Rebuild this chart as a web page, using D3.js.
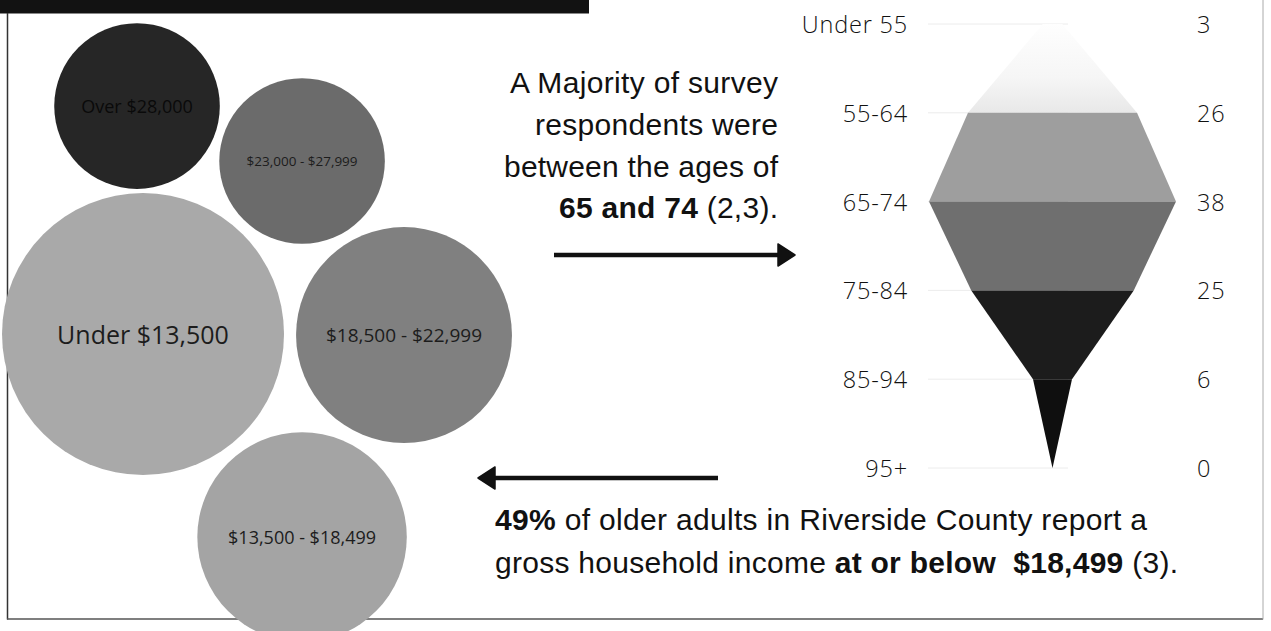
<!DOCTYPE html>
<html>
<head>
<meta charset="utf-8">
<script src="https://cdn.jsdelivr.net/npm/d3@7"></script>
<style>
  html, body { margin: 0; padding: 0; background: #fff; }
  svg { display: block; }
  .note { font-family: "Liberation Sans", Arial, Helvetica, sans-serif; }
</style>
</head>
<body>
<svg id="chart" width="1271" height="631"></svg>
<script>
// ---------- DATA ----------
const incomeCategories = ["Over $28,000", "$23,000 - $27,999", "Under $13,500", "$18,500 - $22,999", "$13,500 - $18,499"];
const incomeValues = [10, 10, 29, 17, 16];

const ageGroups = ["Under 55", "55-64", "65-74", "75-84", "85-94", "95+"];
const ageCounts = [3, 26, 38, 25, 6, 0];

const topNoteLines = [
  [{t: "A Majority of survey"}],
  [{t: "respondents were"}],
  [{t: "between the ages of"}],
  [{t: "65 and 74", b: true}, {t: " (2,3)."}]
];
const bottomNoteLines = [
  [{t: "49%", b: true}, {t: " of older adults in Riverside County report a"}],
  [{t: "gross household income "}, {t: "at or below\u00a0 $18,499", b: true}, {t: " (3)."}]
];

// ---------- STYLE / LAYOUT ----------
const W = 1271, H = 631;
const svg = d3.select("#chart");

const bubbleFill = ["#262626", "#6b6b6b", "#a9a9a9", "#808080", "#a4a4a4"];
const bubbleFont = [18, 13.5, 25, 19, 18];
// bubble layout in panel-relative units (0..1)
const bubbleLayout = [[0.2496, 0.1711], [0.5502, 0.2598], [0.2605, 0.5388], [0.7359, 0.5404], [0.5502, 0.8662]];
const panelX = d3.scaleLinear().domain([0, 1]).range([0, 549]);
const panelY = d3.scaleLinear().domain([0, 1]).range([0, 620]);
const rScale = d3.scaleSqrt().domain([0, 29]).range([0, 141]);

// frame
svg.append("rect").attr("x", 0).attr("y", 0).attr("width", 589).attr("height", 13.5).attr("fill", "#121212");
svg.append("line").attr("x1", 7.5).attr("x2", 7.5).attr("y1", 13).attr("y2", 619.5).attr("stroke", "#333").attr("stroke-width", 1.5);
svg.append("line").attr("x1", 7).attr("x2", 1263).attr("y1", 619).attr("y2", 619).attr("stroke", "#555").attr("stroke-width", 1.5);
svg.append("line").attr("x1", 1263).attr("x2", 1263).attr("y1", 0).attr("y2", 619.5).attr("stroke", "#aaa").attr("stroke-width", 1);

// ---------- BUBBLES ----------
const bubbles = incomeCategories.map((c, i) => ({c, v: incomeValues[i], i}));
const bg = svg.append("g").attr("class", "bubbles");
bg.selectAll("circle").data(bubbles).join("circle")
  .attr("cx", d => panelX(bubbleLayout[d.i][0]))
  .attr("cy", d => panelY(bubbleLayout[d.i][1]))
  .attr("r", d => rScale(d.v))
  .attr("fill", d => bubbleFill[d.i]);
bg.selectAll("text").data(bubbles).join("text")
  .attr("x", d => panelX(bubbleLayout[d.i][0]))
  .attr("y", d => panelY(bubbleLayout[d.i][1]))
  .attr("text-anchor", "middle")
  .attr("dominant-baseline", "central")
  .attr("font-family", "'Open Sans', sans-serif")
  .attr("font-size", d => bubbleFont[d.i])
  .attr("fill", d => d.i === 0 ? "#0a0a0a" : "#1c1c1c")
  .text(d => d.c);

// ---------- FUNNEL ----------
const fy = d3.scalePoint().domain(ageGroups).range([24, 468]);
const fw = d3.scaleLinear().domain([0, 38]).range([0, 247]);
const fcx = 1052.5;
const bandFill = ["url(#topGrad)", "#9e9e9e", "#6f6f6f", "#1c1c1c", "#0f0f0f"];

const defs = svg.append("defs");
const grad = defs.append("linearGradient").attr("id", "topGrad").attr("x1", 0).attr("x2", 0).attr("y1", 0).attr("y2", 1);
grad.append("stop").attr("offset", "0%").attr("stop-color", "#fefefe");
grad.append("stop").attr("offset", "60%").attr("stop-color", "#f6f6f6");
grad.append("stop").attr("offset", "100%").attr("stop-color", "#e8e8e8");

const fg = svg.append("g").attr("class", "funnel");
fg.selectAll("line.grid").data(ageGroups).join("line").attr("class", "grid")
  .attr("x1", 928).attr("x2", 1068)
  .attr("y1", d => fy(d)).attr("y2", d => fy(d))
  .attr("stroke", "#ececec").attr("stroke-width", 1);

const area = d3.area()
  .y(d => fy(d.g))
  .x0(d => fcx - fw(d.v) / 2)
  .x1(d => fcx + fw(d.v) / 2);
const pts = ageGroups.map((g, i) => ({g, v: ageCounts[i]}));
const bands = d3.range(ageGroups.length - 1).map(i => [pts[i], pts[i + 1]]);
fg.selectAll("path.band").data(bands).join("path").attr("class", "band")
  .attr("d", area)
  .attr("fill", (d, i) => bandFill[i]);

fg.selectAll("text.age").data(pts).join("text").attr("class", "age")
  .attr("x", 908).attr("y", d => fy(d.g))
  .attr("text-anchor", "end").attr("dominant-baseline", "central")
  .attr("font-family", "'Open Sans', sans-serif").attr("font-weight", 300)
  .attr("font-size", 23.5).attr("letter-spacing", 0.8).attr("fill", "#111")
  .text(d => d.g);
fg.selectAll("text.val").data(pts).join("text").attr("class", "val")
  .attr("x", 1197).attr("y", d => fy(d.g))
  .attr("text-anchor", "start").attr("dominant-baseline", "central")
  .attr("font-family", "'Open Sans', sans-serif").attr("font-weight", 300)
  .attr("font-size", 23.5).attr("letter-spacing", 0.8).attr("fill", "#111")
  .text(d => d.v);

// ---------- NOTES ----------
function note(lines, x, ys, anchor, lengths) {
  lines.forEach((line, i) => {
    const t = svg.append("text")
      .attr("class", "note")
      .attr("x", x).attr("y", ys[i])
      .attr("text-anchor", anchor)
      .attr("font-size", 30).attr("fill", "#111")
      .attr("xml:space", "preserve")
      .attr("textLength", lengths[i]);
    line.forEach(s => t.append("tspan").attr("font-weight", s.b ? "bold" : "normal").text(s.t));
  });
}
note(topNoteLines, 778, [93, 135, 177, 218], "end", [268, 243, 274, 219]);
note(bottomNoteLines, 495, [530, 573], "start", [652, 683]);

// ---------- ARROWS ----------
function arrow(x1, x2, y) {
  const dir = Math.sign(x2 - x1);
  const head = 17, half = 11;
  svg.append("line").attr("x1", x1).attr("x2", x2 - dir * head + dir * 2).attr("y1", y).attr("y2", y)
    .attr("stroke", "#111").attr("stroke-width", 4.5);
  svg.append("path")
    .attr("d", `M${x2},${y} L${x2 - dir * head},${y - half} L${x2 - dir * head},${y + half} Z`)
    .attr("fill", "#111").attr("stroke", "#111").attr("stroke-linejoin", "round").attr("stroke-width", 1.5);
}
arrow(554, 795, 255);
arrow(718, 478, 478);
</script>
</body>
</html>
